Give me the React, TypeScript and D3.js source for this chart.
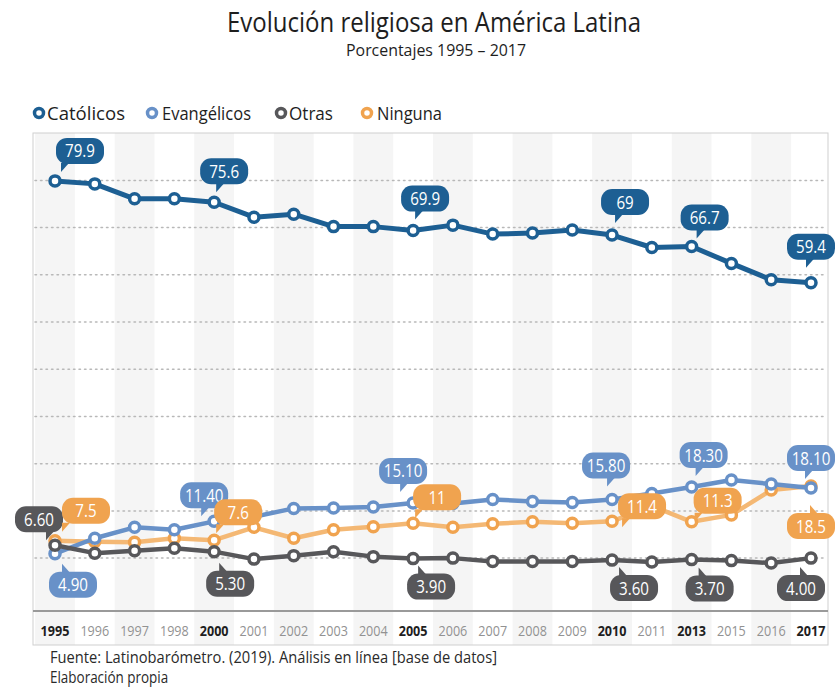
import React, { useEffect, useRef } from "react";
import * as d3 from "d3";

const years = ["1995","1996","1997","1998","2000","2001","2002","2003","2004","2005","2006","2007","2008","2009","2010","2011","2013","2015","2016","2017"];
const highlightYears = ["1995","2000","2005","2010","2013","2017"];

const catolicos = [79.9,79.3,76.3,76.3,75.6,72.6,73.2,70.7,70.7,69.9,71.0,69.2,69.4,70.0,69,66.5,66.7,63.3,60.0,59.4];
const evangelicos = [4.9,8.0,10.2,9.7,11.4,12.3,14.0,14.1,14.3,15.1,15.0,15.8,15.4,15.2,15.8,17.0,18.3,19.7,18.9,18.1];
const otras = [6.6,5.0,5.5,6.0,5.3,3.8,4.5,5.3,4.3,3.9,4.0,3.3,3.3,3.3,3.6,3.2,3.7,3.5,3.0,4.0];
const ninguna = [7.5,7.3,7.2,8.0,7.6,10.2,8.0,9.7,10.3,11,10.2,10.9,11.3,11.0,11.4,14.5,11.3,12.7,17.7,18.5];

const gridValues = [4,13.5,23,32.5,42,51.5,61,70.5,80];

const title = "Evolución religiosa en América Latina";
const subtitle = "Porcentajes 1995 – 2017";
const source1 = "Fuente: Latinobarómetro. (2019). Análisis en línea [base de datos]";
const source2 = "Elaboración propia";

const styles: Record<string, { color: string; line: string; fmt: (v: number) => string }> = {
  "Católicos": { color: "#1d5f93", line: "#1d5f93", fmt: (v) => String(v) },
  "Evangélicos": { color: "#6891c8", line: "#6891c8", fmt: (v) => v.toFixed(2) },
  "Otras": { color: "#57575a", line: "#57575a", fmt: (v) => v.toFixed(2) },
  "Ninguna": { color: "#f0a34f", line: "#f4b874", fmt: (v) => String(v) },
};

// annotation layout (bubble offsets relative to the point)
const bubbles = [
  { s: "Católicos", y: "1995", dx: 25, dy: -30, p: "b", px: -16 },
  { s: "Católicos", y: "2000", dx: 10, dy: -31, p: "b", px: -5 },
  { s: "Católicos", y: "2005", dx: 12, dy: -32, p: "b", px: -7 },
  { s: "Católicos", y: "2010", dx: 13, dy: -33, p: "b", px: -7 },
  { s: "Católicos", y: "2013", dx: 13, dy: -29, p: "b", px: -5 },
  { s: "Católicos", y: "2017", dx: 0, dy: -36, p: "b", px: -2 },
  { s: "Evangélicos", y: "1995", dx: 18, dy: 31, p: "t", px: -8 },
  { s: "Evangélicos", y: "2000", dx: -10, dy: -26, p: "b", px: 0 },
  { s: "Evangélicos", y: "2005", dx: -10, dy: -32, p: "b", px: 0 },
  { s: "Evangélicos", y: "2010", dx: -6, dy: -34, p: "b", px: 4 },
  { s: "Evangélicos", y: "2013", dx: 12, dy: -32, p: "b", px: -5 },
  { s: "Evangélicos", y: "2017", dx: 0, dy: -30, p: "b", px: -3 },
  { s: "Otras", y: "1995", dx: -16, dy: -26, p: "b", px: 10 },
  { s: "Otras", y: "2000", dx: 16, dy: 32, p: "t", px: -8 },
  { s: "Otras", y: "2005", dx: 18, dy: 28, p: "t", px: -10 },
  { s: "Otras", y: "2010", dx: 22, dy: 28, p: "t", px: -12 },
  { s: "Otras", y: "2013", dx: 18, dy: 29, p: "t", px: -8 },
  { s: "Otras", y: "2017", dx: -10, dy: 30, p: "t", px: 2 },
  { s: "Ninguna", y: "1995", dx: 31, dy: -30, p: "b", px: -21 },
  { s: "Ninguna", y: "2000", dx: 24, dy: -28, p: "b", px: -19 },
  { s: "Ninguna", y: "2005", dx: 24, dy: -26, p: "b", px: -19 },
  { s: "Ninguna", y: "2010", dx: 30, dy: -15, p: "b", px: -17 },
  { s: "Ninguna", y: "2013", dx: 26, dy: -21, p: "b", px: -20 },
  { s: "Ninguna", y: "2017", dx: 0, dy: 40, p: "t", px: 2 },
];

const W = 838, H = 697;
const FONT = "'Open Sans', 'Noto Sans', sans-serif";

export default function App() {
  const ref = useRef<SVGSVGElement>(null);

  const dataMap: Record<string, number[]> = {
    "Católicos": catolicos, "Evangélicos": evangelicos, "Otras": otras, "Ninguna": ninguna,
  };

  const plotLeft = 33, plotRight = 828, plotTop = 133, plotBottom = 645, axisY = 611;
  const x = d3.scalePoint<string>().domain(years).range([55, 811]);
  const step = x.step();
  const y = d3.scaleLinear().domain([0, 80]).range([578, 180.4]);

  useEffect(() => {
    const svg = ref.current;
    if (!svg) return;
    svg.querySelectorAll<SVGTextElement>("text[data-k], text[data-w]").forEach((t) => {
      t.removeAttribute("textLength");
      const len = t.getComputedTextLength();
      const k = t.getAttribute("data-k");
      const w = t.getAttribute("data-w");
      const target = w ? +w : len * +(k as string);
      t.setAttribute("textLength", String(target));
      t.setAttribute("lengthAdjust", "spacingAndGlyphs");
    });
  }, []);

  const line = d3.line<number>().x((_, i) => x(years[i]) as number).y((v) => y(v));
  const drawOrder = ["Ninguna", "Evangélicos", "Otras", "Católicos"];

  const legendItems = [
    { name: "Católicos", cx: 39, tx: 47, w: 78 },
    { name: "Evangélicos", cx: 152, tx: 162, w: 89 },
    { name: "Otras", cx: 281, tx: 289, w: 44 },
    { name: "Ninguna", cx: 367, tx: 377, w: 65 },
  ];

  const BW = 48, BH = 26, BR = 11;

  return (
    <svg ref={ref} width={W} height={H} style={{ position: "absolute", left: 0, top: 0, background: "#fff" }} fontFamily={FONT}>
      <rect width={W} height={H} fill="#fff" />
      <text x={434} y={32} textAnchor="middle" fontSize={27} fill="#1e1e1e" data-w={414}>{title}</text>
      <text x={436} y={56} textAnchor="middle" fontSize={17} fill="#1e1e1e" data-w={180}>{subtitle}</text>

      {legendItems.map((l) => (
        <g key={l.name}>
          <circle cx={l.cx} cy={113} r={4.5} fill="#fff" stroke={styles[l.name].color} strokeWidth={3.5} />
          <text x={l.tx} y={119.5} fontSize={18} fill="#1e1e1e" data-w={l.w}>{l.name}</text>
        </g>
      ))}

      {years.map((yr, i) => i % 2 === 0 ? (
        <rect key={yr} x={(x(yr) as number) - step / 2} y={plotTop} width={step} height={plotBottom - plotTop} fill="#f5f5f5" />
      ) : null)}
      <rect x={plotLeft} y={plotTop} width={plotRight - plotLeft} height={plotBottom - plotTop} fill="none" stroke="#cfcfcf" strokeWidth={1} />

      {gridValues.map((g) => (
        <line key={g} x1={plotLeft + 2} x2={plotRight - 2} y1={y(g)} y2={y(g)} stroke="#b8b8b8" strokeWidth={1.5} strokeDasharray="1.5,4" strokeLinecap="round" />
      ))}

      <line x1={plotLeft} x2={plotRight} y1={axisY} y2={axisY} stroke="#9a9a9a" strokeWidth={2} />

      {years.map((yr) => {
        const hi = highlightYears.includes(yr);
        return (
          <text key={yr} x={x(yr) as number} y={635.5} textAnchor="middle" fontSize={15} fontWeight={hi ? 700 : 400} fill={hi ? "#1e1e1e" : "#929292"} data-k={0.84}>{yr}</text>
        );
      })}

      {drawOrder.map((name) => (
        <g key={name}>
          <path d={line(dataMap[name]) as string} fill="none" stroke={styles[name].line} strokeWidth={name === "Católicos" ? 5 : 4.5} strokeLinejoin="round" />
          {dataMap[name].map((v, i) => (
            <circle key={i} cx={x(years[i]) as number} cy={y(v)} r={5} fill="#fff" stroke={styles[name].color} strokeWidth={3.5} />
          ))}
        </g>
      ))}

      {bubbles.map((b, i) => {
        const idx = years.indexOf(b.y);
        const v = dataMap[b.s][idx];
        const px0 = x(b.y) as number;
        const py0 = y(v);
        const cx = px0 + b.dx, cy = py0 + b.dy;
        const color = styles[b.s].color;
        const edge = b.p === "b" ? cy + BH / 2 - 1 : cy - BH / 2 + 1;
        const tipY = b.p === "b" ? edge + 9 : edge - 9;
        const bx = cx + b.px;
        const tri = `M${bx - 3},${edge} L${bx + 5},${edge} L${bx - 3},${tipY} Z`;
        return (
          <g key={i}>
            <path d={tri} fill={color} />
            <rect x={cx - BW / 2} y={cy - BH / 2} width={BW} height={BH} rx={BR} fill={color} />
            <text x={cx} y={cy + 6.5} textAnchor="middle" fontSize={18} fill="#fff" data-k={0.84}>{styles[b.s].fmt(v)}</text>
          </g>
        );
      })}

      <text x={50} y={663} fontSize={16} fill="#2a2a2a" data-w={447}>{source1}</text>
      <text x={50} y={683} fontSize={16} fill="#2a2a2a" data-k={0.84}>{source2}</text>
    </svg>
  );
}
